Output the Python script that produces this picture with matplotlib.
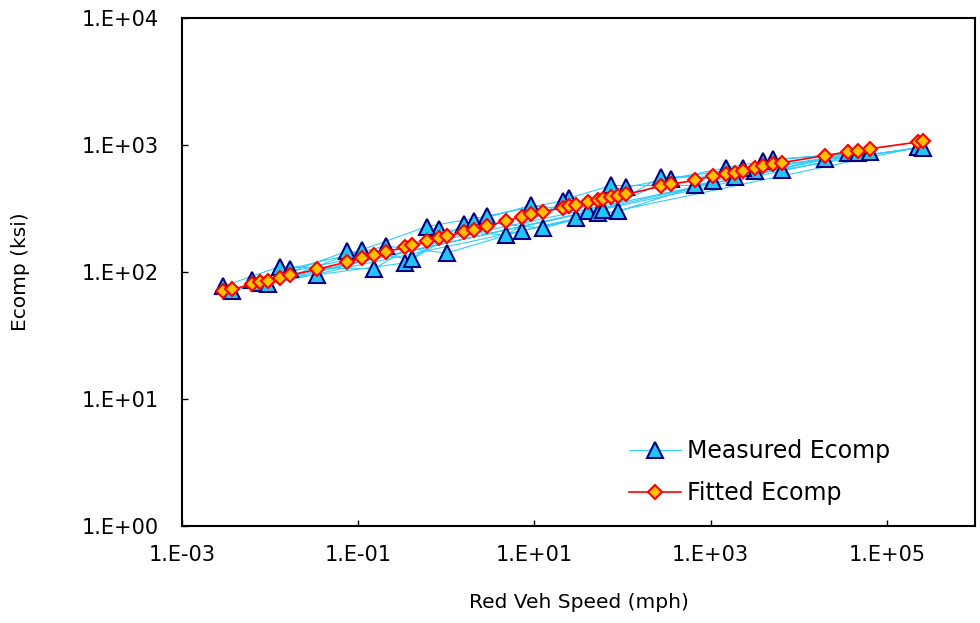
import math
import matplotlib
matplotlib.use("Agg")
import matplotlib.pyplot as plt
from matplotlib.ticker import FixedLocator, FuncFormatter, NullLocator

plt.rcParams['font.family'] = ['DejaVu Sans']

# Measured dynamic modulus, in test order (reduced vehicle speed, mph / Ecomp, ksi)
meas_speed = [0.0029, 0.0128, 0.152, 0.82, 4.7, 24.8, 74.1, 659, 3142, 36200,
              0.0037, 0.0166, 0.207, 1.01, 7.3, 29.9, 88.9, 1054, 3870, 47000,
              0.0062, 0.034, 0.34, 1.58, 9.2, 40.7, 110, 1477, 5150, 64200,
              0.0076, 0.075, 0.41, 2.05, 12.6, 52.9, 272, 1866, 6510, 224000,
              0.0094, 0.111, 0.60, 2.87, 21.3, 60.2, 353, 2300, 19900, 255000]
meas_ecomp = [77, 110, 106, 218, 195, 382, 480, 480, 620, 860,
              71, 106, 160, 141, 212, 265, 300, 520, 750, 870,
              87, 95, 118, 240, 335, 300, 465, 660, 770, 880,
              82, 146, 126, 250, 222, 290, 560, 560, 640, 960,
              80, 150, 228, 275, 365, 310, 540, 665, 770, 950]

# Master-curve fit, sorted by reduced speed
fit_speed = [0.0029, 0.0037, 0.0062, 0.0076, 0.0094, 0.0128, 0.0166, 0.034, 0.075, 0.111,
             0.152, 0.207, 0.34, 0.41, 0.60, 0.82, 1.01, 1.58, 2.05, 2.87,
             4.7, 7.3, 9.2, 12.6, 21.3, 24.8, 29.9, 40.7, 52.9, 60.2,
             74.1, 88.9, 110, 272, 353, 659, 1054, 1477, 1866, 2300,
             3142, 3870, 5150, 6510, 19900, 36200, 47000, 64200, 224000, 255000]
fit_ecomp = [71, 73, 80, 83, 85, 90, 94, 105, 120, 129,
             136, 144, 157, 162, 174, 184, 191, 206, 216, 230,
             252, 273, 284, 298, 322, 330, 339, 355, 369, 376,
             387, 397, 408, 474, 492, 526, 572, 596, 606, 629,
             662, 689, 712, 727, 826, 885, 903, 935, 1055, 1068]

x_ticks = [1e-3, 1e-1, 1e1, 1e3, 1e5]
y_ticks = [1e0, 1e1, 1e2, 1e3, 1e4]

fig = plt.figure(figsize=(9.8, 6.23), dpi=100)
ax = fig.add_axes([0.1857, 0.1557, 0.8093, 0.8154])

ax.plot(meas_speed, meas_ecomp, color='#33CCFF', lw=0.8, marker='^',
        ms=11, mfc='#1EC8F5', mec='#000080', mew=1.5, label='Measured Ecomp', zorder=2)
ax.plot(fit_speed, fit_ecomp, color='#FF0000', lw=1.2, marker='D',
        ms=7.5, mfc='#FFC000', mec='#FF0000', mew=1.5, label='Fitted Ecomp', zorder=3)

ax.set_xscale('log')
ax.set_yscale('log')
ax.set_xlim(1e-3, 1e6)
ax.set_ylim(1e0, 1e4)


def sci_label(v, pos):
    e = int(round(math.log10(v)))
    return "1.E{}{:02d}".format('+' if e >= 0 else '-', abs(e))


ax.xaxis.set_major_locator(FixedLocator(x_ticks))
ax.yaxis.set_major_locator(FixedLocator(y_ticks))
ax.xaxis.set_minor_locator(NullLocator())
ax.yaxis.set_minor_locator(NullLocator())
ax.xaxis.set_major_formatter(FuncFormatter(sci_label))
ax.yaxis.set_major_formatter(FuncFormatter(sci_label))

ax.tick_params(axis='x', direction='in', length=4, width=1, labelsize=15,
               color='black', pad=14)
ax.tick_params(axis='y', direction='in', length=4, width=1, labelsize=15,
               color='black', pad=17)
for sp in ax.spines.values():
    sp.set_linewidth(1.5)
    sp.set_color('black')

ax.set_xlabel('Red Veh Speed (mph)', fontsize=14.5)
ax.set_ylabel('Ecomp (ksi)', fontsize=14.5)
ax.xaxis.set_label_coords(0.5, -0.132)
ax.yaxis.set_label_coords(-0.192, 0.5)

ax.legend(loc='upper left', bbox_to_anchor=(0.540, 0.208), frameon=False,
          fontsize=17, handlelength=2.2, labelspacing=0.75, handletextpad=0.25,
          borderpad=0.3)

fig.savefig('out.png', dpi=100)
